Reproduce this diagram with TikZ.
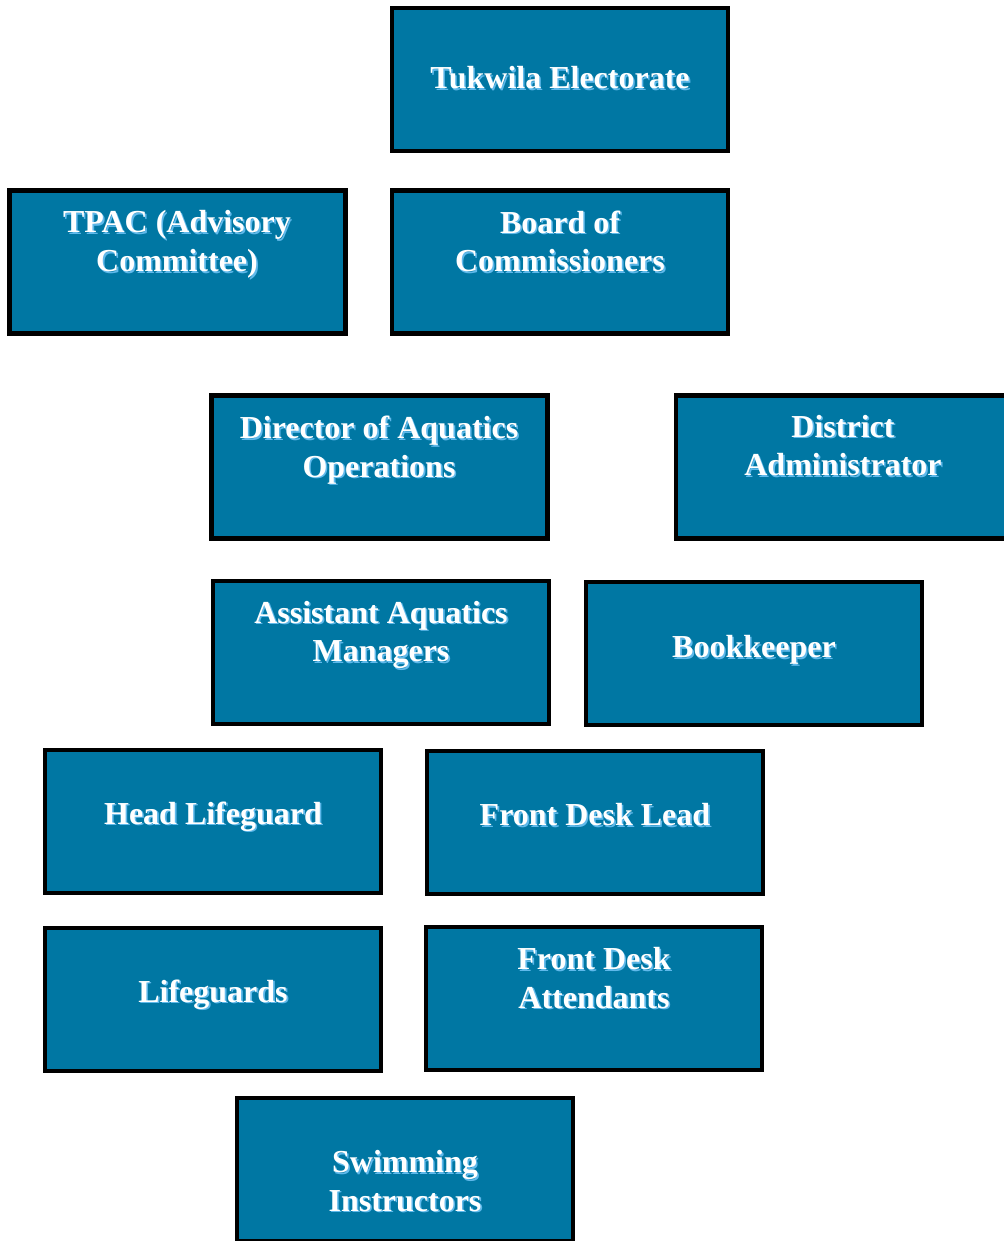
\documentclass[tikz,border=0pt]{standalone}
\usepackage{fontspec}
\setmainfont{Liberation Serif}
\usepackage{xcolor}
\usepackage{tikz}
\usetikzlibrary{shapes,calc,positioning}
\definecolor{poolblue}{RGB}{0,119,163}
\definecolor{glow}{RGB}{95,185,235}
\tikzset{
  unit/.style={rectangle, draw=black, fill=poolblue, line width=4.4pt, minimum width=336pt, minimum height=143pt, inner sep=0pt},
  lbl/.style={inner sep=0pt, align=center, text=white, font=\fontsize{32}{38.5}\selectfont\bfseries}
}
\newcommand{\unitname}[3]{%
  \node[lbl, text=glow] at ($(#2)+(1.6,1.6)$) {#3};
  \node[lbl] (#1) at (#2) {#3};}
\begin{document}
\begin{tikzpicture}[x=1pt, y=-1pt]
\useasboundingbox (0,0) rectangle (1003,1241);
\node[unit] (elect) at (560,79.5) {};
\node[unit] (tpac) at (177.5,262) {};
\node[unit] (board) at (560,262) {};
\node[unit] (dir) at (379.5,467) {};
\node[unit] (admin) at (844,467) {};
\node[unit] (asst) at (381,652.5) {};
\node[unit] (book) at (754,653.5) {};
\node[unit] (head) at (213,821.5) {};
\node[unit] (fdlead) at (595,822.5) {};
\node[unit] (guards) at (213,999.5) {};
\node[unit] (fdatt) at (594,998.5) {};
\node[unit] (swim) at (405,1169.5) {};
\coordinate (t1) at (560,78);
\coordinate (t2) at (177,244.5);
\coordinate (t3) at (560,241.5);
\coordinate (t4) at (379,450);
\coordinate (t5) at (843,445.5);
\coordinate (t6) at (381,635);
\coordinate (t7) at (754,650);
\coordinate (t8) at (213,816.5);
\coordinate (t9) at (595,815);
\coordinate (t10) at (213,994.5);
\coordinate (t11) at (594,978);
\coordinate (t12) at (405,1181);
\unitname{electtxt}{t1}{Tukwila Electorate}
\unitname{tpactxt}{t2}{TPAC (Advisory\\Committee)}
\unitname{boardtxt}{t3}{Board of\\Commissioners}
\unitname{dirtxt}{t4}{Director of Aquatics\\Operations}
\unitname{admintxt}{t5}{District\\Administrator}
\unitname{assttxt}{t6}{Assistant Aquatics\\Managers}
\unitname{booktxt}{t7}{Bookkeeper}
\unitname{headtxt}{t8}{Head Lifeguard}
\unitname{fdleadtxt}{t9}{Front Desk Lead}
\unitname{guardstxt}{t10}{Lifeguards}
\unitname{fdatttxt}{t11}{Front Desk\\Attendants}
\unitname{swimtxt}{t12}{Swimming\\Instructors}
\end{tikzpicture}
\end{document}
